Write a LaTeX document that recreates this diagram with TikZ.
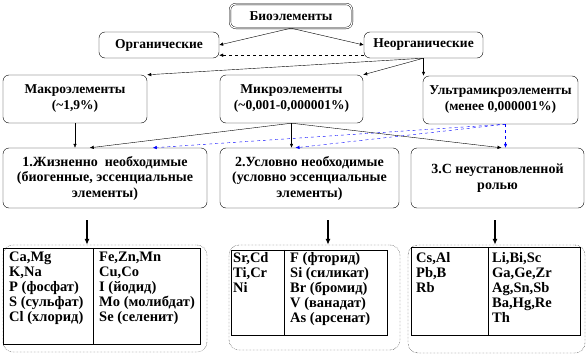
\documentclass[tikz,border=0pt]{standalone}
\usepackage{fontspec}
\setmainfont{Liberation Serif}
\usetikzlibrary{arrows.meta}

\tikzset{
    box/.style={draw=black, rounded corners=6pt, align=center, inner sep=0pt,
        font=\bfseries\fontsize{13.5}{16}\selectfont},
    outer/.style={draw=black, densely dotted, rounded corners=10pt, inner sep=0pt},
    grid/.style={draw=black, inner sep=0pt},
    kol/.style={anchor=north west, align=left, inner sep=0pt,
        font=\bfseries\fontsize{14.5}{15}\selectfont},
    pil/.style={-{Latex[length=4pt,width=3.5pt]}, thin},
    blupil/.style={pil, blue, dashed},
    down/.style={-{Latex[length=6pt,width=5pt]}, line width=1.2pt},
}

\begin{document}
\begin{tikzpicture}[x=1pt,y=-1pt]
            \useasboundingbox[fill=white] (0,0) rectangle (587,364);

            % top levels
            \node[box, double, double distance=1.2pt, minimum width=122pt, minimum height=24pt,
                font=\bfseries\fontsize{13.5}{15}\selectfont] (bio) at (291,16) {Биоэлементы};
            \node[box, minimum width=120pt, minimum height=26pt] (org) at (159,45) {Органические};
            \node[box, minimum width=119pt, minimum height=26pt] (neorg) at (423.5,45) {Неорганические};

            \begin{scope}[every node/.style={box, minimum height=48pt}]
                \node[minimum width=144pt] (macro) at (75,99) {Макроэлементы\\(\textasciitilde1,9\%)};
                \node[minimum width=143pt] (micro) at (291.5,99) {Микроэлементы\\(\textasciitilde0,001-0,000001\%)};
                \node[minimum width=155pt] (ultra) at (500.5,100) {Ультрамикроэлементы\\(менее 0,000001\%)};
            \end{scope}

            \begin{scope}[every node/.style={box, minimum height=60pt,
                    font=\bfseries\fontsize{14}{15.5}\selectfont}]
                \node[minimum width=204pt] (g1) at (105,178)
                    {1.Жизненно\ \ необходимые\\(биогенные, эссенциальные\\элементы)};
                \node[minimum width=179pt] (g2) at (309.5,178)
                    {2.Условно необходимые\\(условно эссенциальные\\элементы)};
                \node[minimum width=173pt] (g3) at (497.5,178)
                    {3.С неустановленной\\ролью};
            \end{scope}

            % tables
            \node[outer, minimum width=204pt, minimum height=107pt] (outA) at (105,298.5) {};
            \node[outer, minimum width=171pt, minimum height=105pt] (outB) at (314.5,297.5) {};
            \node[outer, minimum width=177pt, minimum height=108pt] (outC) at (496.5,299) {};

            \node[grid, minimum width=197pt, minimum height=96pt] (tabA) at (101.5,296) {};
            \node[grid, minimum width=156pt, minimum height=85pt] (tabB) at (309,292.5) {};
            \node[grid, minimum width=169pt, minimum height=88pt] (tabC) at (495.5,291) {};

            \draw ([xshift=90pt]tabA.north west) -- ([xshift=90pt]tabA.south west);
            \draw ([xshift=53pt]tabB.north west) -- ([xshift=53pt]tabB.south west);
            \draw ([xshift=77pt]tabC.north west) -- ([xshift=77pt]tabC.south west);

            \node[kol] (a1) at (9,252) {Ca,Mg\\K,Na\\P (фосфат)\\S (сульфат)\\Cl (хлорид)};
            \node[kol] (a2) at (99,252) {Fe,Zn,Mn\\Cu,Co\\I (йодид)\\Mo (молибдат)\\Se (селенит)};
            \node[kol] (b1) at (233,252) {Sr,Cd\\Ti,Cr\\Ni};
            \node[kol] (b2) at (290,252) {F (фторид)\\Si (силикат)\\Br (бромид)\\V (ванадат)\\As (арсенат)};
            \node[kol] (c1) at (416,252) {Cs,Al\\Pb,B\\Rb};
            \node[kol] (c2) at (492,252) {Li,Bi,Sc\\Ga,Ge,Zr\\Ag,Sn,Sb\\Ba,Hg,Re\\Th};

            % arrows
            \path[pil] (bio.south) edge (org.east);
            \path[pil] (bio.south) edge (neorg.west);
            \path[pil, dashed] ([yshift=3pt]neorg.south west) edge ([yshift=3pt]org.south east);

            \path[pil] (neorg.south) edge (macro.north east);
            \path[pil] (neorg.south) edge (micro.north east);
            \path[pil] (neorg.south) edge (neorg.south |- ultra.north);

            \path[pil] (macro.south) edge (macro.south |- g1.north);
            \path[pil] (micro.south) edge ([xshift=87pt]g1.north west);
            \path[pil] (micro.south) edge (micro.south |- g2.north);
            \path[pil] (micro.south) edge ([xshift=4pt]g3.north);

            \path[blupil] ([xshift=5pt]ultra.south) edge ([xshift=150pt]g1.north west);
            \path[blupil] ([xshift=5pt]ultra.south) edge ([xshift=-14pt]g2.north);
            \path[blupil] ([xshift=5pt]ultra.south) edge ([xshift=5pt]ultra.south |- g3.north);

            \coordinate (s1) at (87,220);
            \coordinate (s2) at (328,220);
            \coordinate (s3) at (495,220);
            \path[down] (s1) edge (s1 |- outA.north);
            \path[down] (s2) edge (s2 |- outB.north);
            \path[down] (s3) edge (s3 |- outC.north);
        \end{tikzpicture}
\end{document}
